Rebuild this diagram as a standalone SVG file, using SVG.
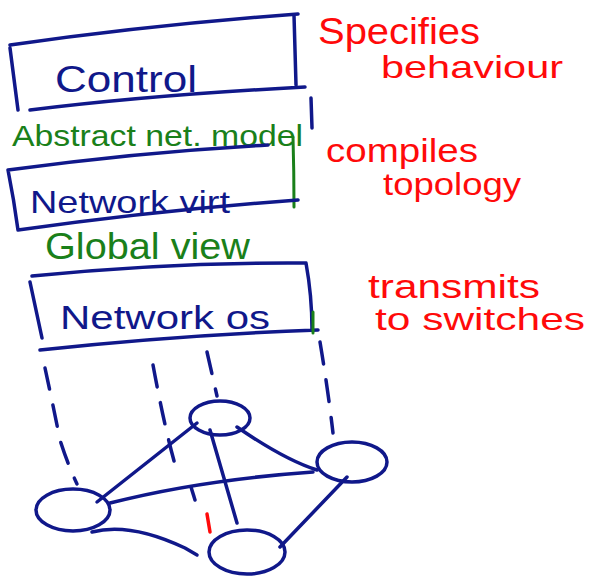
<svg xmlns="http://www.w3.org/2000/svg" width="590" height="577" viewBox="0 0 590 577">
<style>
.ink{fill:none;stroke:#10188a;stroke-width:3.5;stroke-linecap:round;stroke-linejoin:round}
.gink{fill:none;stroke:#1a801a;stroke-width:3;stroke-linecap:round}
.dash{fill:none;stroke:#10188a;stroke-width:3.5;stroke-linecap:round;stroke-dasharray:22 16}
.t{font-family:"Liberation Sans","DejaVu Sans",sans-serif}
.blue{fill:#10188a}
.green{fill:#1a801a}
.red{fill:#ff0a0a}
</style>
<rect width="590" height="577" fill="#ffffff"/>

<g id="control">
  <path class="ink" d="M10,45 Q150,25 298,14 M10,48 Q14,80 18,110 M294,15 Q295,50 296,85 M30,110 Q150,95 305,87"/>
  <text class="t blue" x="55" y="92" font-size="36" textLength="142" lengthAdjust="spacingAndGlyphs">Control</text>
</g>

<g id="abstract-net-model">
  <text class="t green" x="12" y="146" font-size="29" textLength="291" lengthAdjust="spacingAndGlyphs">Abstract net. model</text>
  <path class="ink" d="M311,98 L312,128"/>
  <path class="gink" d="M293,137 Q294,172 294,207"/>
</g>

<g id="network-virt">
  <path class="ink" d="M8,170 Q140,152 268,145 M8,170 Q14,200 18,230 M18,230 Q160,210 298,200"/>
  <text class="t blue" x="30" y="213" font-size="32" textLength="200" lengthAdjust="spacingAndGlyphs">Network virt</text>
</g>

<g id="global-view">
  <text class="t green" x="45" y="259" font-size="36" textLength="205" lengthAdjust="spacingAndGlyphs">Global view</text>
</g>

<g id="network-os">
  <path class="ink" d="M32,276 Q170,262 306,263 M30,282 Q36,310 42,338 M306,263 Q312,296 312,330 M40,350 Q180,335 318,330"/>
  <path class="gink" d="M313,312 L313,333"/>
  <text class="t blue" x="60" y="329" font-size="34" textLength="210" lengthAdjust="spacingAndGlyphs">Network os</text>
</g>

<g id="label-specifies">
  <text class="t red" x="318" y="44" font-size="36" textLength="162" lengthAdjust="spacingAndGlyphs">Specifies</text>
  <text class="t red" x="381" y="78" font-size="32" textLength="182" lengthAdjust="spacingAndGlyphs">behaviour</text>
</g>
<g id="label-compiles">
  <text class="t red" x="326" y="162" font-size="34" textLength="152" lengthAdjust="spacingAndGlyphs">compiles</text>
  <text class="t red" x="383" y="195" font-size="32" textLength="138" lengthAdjust="spacingAndGlyphs">topology</text>
</g>
<g id="label-transmits">
  <text class="t red" x="368" y="298" font-size="34" textLength="172" lengthAdjust="spacingAndGlyphs">transmits</text>
  <text class="t red" x="375" y="330" font-size="32" textLength="210" lengthAdjust="spacingAndGlyphs">to switches</text>
</g>

<g id="connectors">
  <path class="dash" d="M45,368 Q52,400 60,440 Q68,465 77,484"/>
  <path class="dash" d="M153,365 Q165,430 176,468"/>
  <path class="ink" d="M191,487 L195,500"/>
  <path fill="none" stroke="#ff0a0a" stroke-width="3.5" stroke-linecap="round" d="M207,514 L210,532"/>
  <path class="dash" d="M207,352 L217,396"/>
  <path class="dash" d="M320,342 Q328,390 333,433"/>
  <path class="ink" d="M197,423 L97,502"/>
  <path class="ink" d="M210,430 L237,523"/>
  <path class="ink" d="M237,427 Q285,460 317,470"/>
  <path class="ink" d="M110,503 Q200,480 313,472"/>
  <path class="ink" d="M347,477 L280,547"/>
  <path class="ink" d="M92,532 Q130,522 185,548 L197,555"/>
</g>

<g id="switch-top"><ellipse class="ink" cx="220" cy="418" rx="30" ry="17"/></g>
<g id="switch-right"><ellipse class="ink" cx="352" cy="462" rx="35" ry="20"/></g>
<g id="switch-left"><ellipse class="ink" cx="73" cy="510" rx="37" ry="21"/></g>
<g id="switch-bottom"><ellipse class="ink" cx="247" cy="552" rx="38" ry="22"/></g>
</svg>
